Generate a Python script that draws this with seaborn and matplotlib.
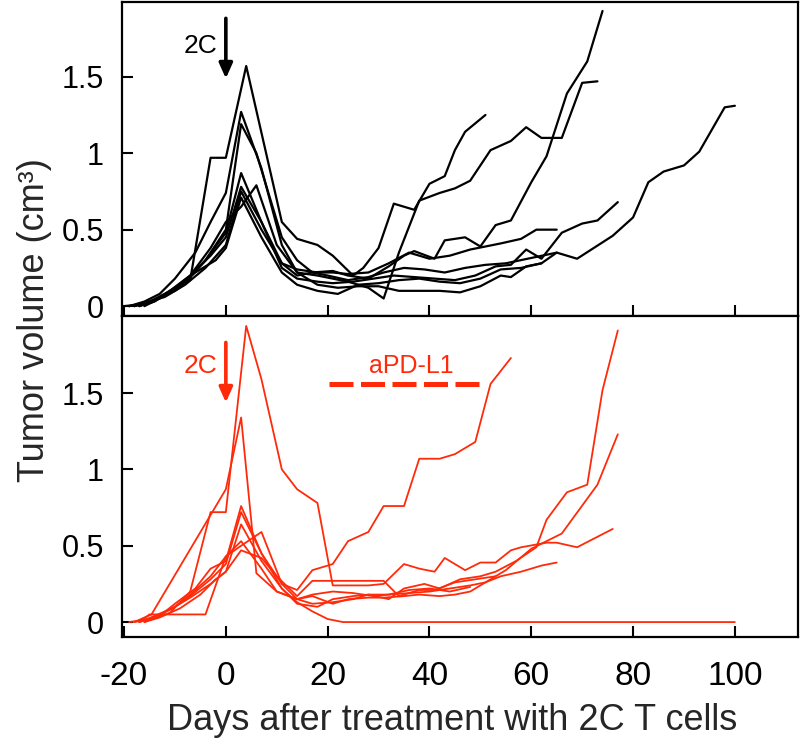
import matplotlib
matplotlib.use('Agg')
import matplotlib.pyplot as plt
import seaborn as sns
import pandas as pd

# --- top panel: 2C T cells only (black) ---
t1_days = [-20, -17, -14, -10, -7, -3, 0, 4, 11, 14, 18, 21, 25, 27, 30, 33, 37, 40, 43, 45, 47, 51]
t1_vol = [0, 0.01, 0.04, 0.10, 0.17, 0.97, 0.97, 1.57, 0.55, 0.44, 0.40, 0.33, 0.20, 0.25, 0.38, 0.67, 0.63, 0.80, 0.85, 1.02, 1.14, 1.25]
t2_days = [-19, -16, -13, -10, -6, -3, 0, 3, 7, 11, 14, 18, 21, 24, 28, 31, 34, 38, 42, 45, 48, 52, 56, 59, 62, 66, 70, 73]
t2_vol = [0, 0.03, 0.08, 0.18, 0.35, 0.55, 0.74, 1.27, 0.90, 0.40, 0.22, 0.20, 0.18, 0.16, 0.12, 0.05, 0.35, 0.69, 0.74, 0.77, 0.82, 1.02, 1.08, 1.17, 1.10, 1.10, 1.46, 1.47]
t3_days = [-18, -15, -12, -8, -4, 0, 3, 6, 11, 14, 17, 21, 24, 28, 32, 35, 37, 41, 43, 47, 50, 53, 56, 60, 63, 67, 71, 74]
t3_vol = [0, 0.03, 0.08, 0.15, 0.30, 0.50, 1.19, 1.00, 0.45, 0.30, 0.22, 0.23, 0.20, 0.18, 0.26, 0.33, 0.36, 0.31, 0.43, 0.45, 0.39, 0.53, 0.56, 0.81, 0.98, 1.39, 1.60, 1.93]
t4_days = [-18, -15, -12, -8, -4, 0, 3, 7, 11, 14, 18, 21, 24, 28, 32, 36, 40, 44, 48, 54, 58, 61, 65]
t4_vol = [0, 0.02, 0.07, 0.16, 0.30, 0.48, 0.87, 0.55, 0.28, 0.24, 0.22, 0.22, 0.21, 0.22, 0.28, 0.35, 0.31, 0.33, 0.37, 0.41, 0.44, 0.50, 0.50]
t5_days = [-17, -14, -11, -7, -3, 0, 3, 7, 11, 14, 18, 21, 25, 29, 33, 37, 41, 45, 49, 53, 56, 59, 62, 66, 70, 73, 77]
t5_vol = [0, 0.03, 0.10, 0.20, 0.33, 0.45, 0.78, 0.55, 0.25, 0.18, 0.16, 0.15, 0.16, 0.18, 0.20, 0.19, 0.18, 0.17, 0.20, 0.26, 0.27, 0.37, 0.31, 0.48, 0.54, 0.56, 0.68]
t6_days = [-16, -13, -10, -7, -3, 0, 3, 6, 10, 14, 18, 22, 26, 30, 34, 38, 42, 46, 50, 54, 56, 59, 62, 65, 69, 76, 80, 83, 86, 90, 93, 98, 100]
t6_vol = [0, 0.05, 0.12, 0.20, 0.38, 0.55, 0.65, 0.79, 0.40, 0.22, 0.14, 0.12, 0.13, 0.13, 0.10, 0.10, 0.10, 0.09, 0.13, 0.20, 0.19, 0.26, 0.28, 0.35, 0.31, 0.46, 0.58, 0.81, 0.88, 0.92, 1.01, 1.30, 1.31]
t7_days = [-17, -14, -10, -6, -2, 0, 3, 7, 11, 14, 18, 22, 26, 30, 34, 38, 42, 46, 50, 54, 58, 62]
t7_vol = [0, 0.04, 0.12, 0.22, 0.30, 0.38, 0.71, 0.45, 0.22, 0.14, 0.10, 0.08, 0.14, 0.15, 0.17, 0.18, 0.16, 0.15, 0.18, 0.24, 0.25, 0.28]
t8_days = [-19, -16, -12, -8, -4, 0, 3, 7, 11, 14, 17, 20, 24, 28, 31, 35, 39, 43, 47, 51, 55, 65]
t8_vol = [0, 0.02, 0.06, 0.14, 0.25, 0.40, 0.75, 0.50, 0.28, 0.20, 0.22, 0.20, 0.17, 0.19, 0.22, 0.25, 0.24, 0.22, 0.25, 0.27, 0.28, 0.35]

# --- bottom panel: 2C T cells + aPD-L1 (red) ---
r1_days = [-19, -15, -11, -7, -3, 0, 4, 7, 11, 14, 18, 21, 25, 28, 31, 35, 38, 41, 43, 47, 50, 53, 56, 58, 63, 65, 69, 76]
r1_vol = [0, 0.02, 0.06, 0.20, 0.72, 0.72, 1.94, 1.59, 1.00, 0.87, 0.78, 0.24, 0.24, 0.24, 0.25, 0.38, 0.35, 0.33, 0.42, 0.34, 0.39, 0.39, 0.47, 0.49, 0.52, 0.52, 0.49, 0.61]
r2_days = [-18, -14.6, 0, 3, 6, 10, 14, 17, 21, 24, 28, 31, 35, 38, 42, 45, 48, 51, 55, 60, 66, 73, 77]
r2_vol = [0, 0.05, 0.87, 1.34, 0.32, 0.20, 0.15, 0.17, 0.12, 0.15, 0.16, 0.16, 0.17, 0.18, 0.17, 0.18, 0.20, 0.26, 0.34, 0.48, 0.58, 0.90, 1.23]
r3_days = [-16, -13, -10, -6, -3, 0, 3, 7, 11, 14, 18, 21, 25, 28, 32, 35, 39, 42, 46, 50, 53, 57, 61, 63, 67, 71, 74, 77]
r3_vol = [0, 0.04, 0.12, 0.22, 0.35, 0.40, 0.76, 0.45, 0.22, 0.12, 0.10, 0.15, 0.17, 0.18, 0.15, 0.22, 0.25, 0.22, 0.28, 0.30, 0.33, 0.40, 0.49, 0.67, 0.85, 0.90, 1.52, 1.91]
r4_days = [-17, -14, -10, -7, -3, 0, 3, 7, 11, 14, 17, 21, 24, 28, 31, 35, 38, 42, 45, 49, 52, 56]
r4_vol = [0, 0.03, 0.10, 0.17, 0.28, 0.38, 0.72, 0.45, 0.25, 0.21, 0.34, 0.38, 0.53, 0.59, 0.76, 0.76, 1.07, 1.07, 1.10, 1.18, 1.56, 1.73]
r5_days = [-18, -15, -11, -7, -3, 0, 3, 7, 11, 14, 17, 20, 23, 100]
r5_vol = [0, 0.02, 0.08, 0.16, 0.25, 0.33, 0.64, 0.40, 0.22, 0.13, 0.07, 0.02, 0, 0]
r6_days = [-17, -14, -10, -7, -3, 0, 3, 7, 10, 14, 17, 21, 25, 28, 32, 36, 40, 44, 48, 51, 54, 58, 62, 65]
r6_vol = [0, 0.04, 0.10, 0.18, 0.30, 0.43, 0.53, 0.35, 0.20, 0.15, 0.12, 0.13, 0.15, 0.18, 0.18, 0.19, 0.20, 0.22, 0.24, 0.26, 0.30, 0.33, 0.37, 0.39]
r7_days = [-17, -15, -4, 0, 3, 7, 11, 14, 17, 21, 25, 29, 32, 36, 40, 44, 48]
r7_vol = [0, 0.05, 0.05, 0.43, 0.50, 0.59, 0.25, 0.15, 0.18, 0.20, 0.19, 0.17, 0.18, 0.21, 0.22, 0.20, 0.23]
r8_days = [-16, -13, -9, -5, -2, 0, 3, 7, 10, 14, 17, 21, 25, 28, 31, 34, 38, 41, 45, 49, 53]
r8_vol = [0, 0.03, 0.09, 0.18, 0.28, 0.33, 0.47, 0.42, 0.30, 0.17, 0.27, 0.27, 0.27, 0.27, 0.27, 0.17, 0.21, 0.21, 0.26, 0.28, 0.30]

x_ticks = [-20, 0, 20, 40, 60, 80, 100]
y_ticks = [0, 0.5, 1, 1.5]
y_ticklabels = ['0', '0.5', '1', '1.5']
apd_start, apd_end = 20.3, 50.9  # aPD-L1 treatment window (days)

RED = '#ff2a0a'


def make_frame(curves):
    parts = []
    for i, (d, v) in enumerate(curves):
        parts.append(pd.DataFrame({'day': d, 'vol': v, 'mouse': i}))
    return pd.concat(parts, ignore_index=True)


df_top = make_frame([(t1_days, t1_vol), (t2_days, t2_vol), (t3_days, t3_vol), (t4_days, t4_vol),
                     (t5_days, t5_vol), (t6_days, t6_vol), (t7_days, t7_vol), (t8_days, t8_vol)])
df_bot = make_frame([(r1_days, r1_vol), (r2_days, r2_vol), (r3_days, r3_vol), (r4_days, r4_vol),
                     (r5_days, r5_vol), (r6_days, r6_vol), (r7_days, r7_vol), (r8_days, r8_vol)])

sns.set_style('ticks')
plt.rcParams['font.family'] = ['Liberation Sans', 'DejaVu Sans']
plt.rcParams['axes.unicode_minus'] = False

fig = plt.figure(figsize=(8, 7.49), dpi=100)
ax1 = fig.add_axes([0.1525, 0.578, 0.845, 0.419])
ax2 = fig.add_axes([0.1525, 0.1495, 0.845, 0.4286])

sns.lineplot(data=df_top, x='day', y='vol', units='mouse', estimator=None, sort=False,
             color='black', lw=1.6, ax=ax1)
sns.lineplot(data=df_bot, x='day', y='vol', units='mouse', estimator=None, sort=False,
             color=RED, lw=1.3, ax=ax2)

ax1.set_ylim(-0.065, 1.987)
ax2.set_ylim(-0.098, 2.005)
for ax in (ax1, ax2):
    ax.set_xlim(-20.4, 112.4)
    ax.set_xticks(x_ticks)
    ax.set_yticks(y_ticks)
    ax.set_yticklabels(y_ticklabels)
    ax.set_xlabel('')
    ax.set_ylabel('')
    for s in ax.spines.values():
        s.set_linewidth(1.6)
        s.set_color('black')
    ax.tick_params(axis='both', direction='in', length=8, width=1.5, colors='black')
    ax.tick_params(axis='y', labelsize=22, pad=13)
    ax.tick_params(axis='x', labelsize=24, pad=17)
ax1.tick_params(axis='x', labelbottom=False)

# 2C arrows
ax1.annotate('', xy=(0, 1.47), xytext=(0, 1.90),
             arrowprops=dict(arrowstyle='-|>,head_length=0.9,head_width=0.4', lw=2.6, color='black'))
ax1.text(-1.6, 1.70, '2C', fontsize=19, ha='right', va='center', color='black')
ax2.annotate('', xy=(0, 1.42), xytext=(0, 1.85),
             arrowprops=dict(arrowstyle='-|>,head_length=0.9,head_width=0.4', lw=2.6, color=RED))
ax2.text(-1.6, 1.68, '2C', fontsize=19, ha='right', va='center', color=RED)

# aPD-L1 window
ax2.plot([apd_start, apd_end], [1.56, 1.56], color=RED, lw=3.6, ls=(0, (4.8, 1.5)), solid_capstyle='butt')
ax2.text(36.4, 1.68, 'aPD-L1', fontsize=18, ha='center', va='center', color=RED)

fig.text(0.565, 0.038, 'Days after treatment with 2C T cells', fontsize=26, ha='center', va='center')
fig.text(0.043, 0.573, 'Tumor volume (cm³)', fontsize=26, ha='center', va='center', rotation=90)

fig.savefig('out.png', dpi=100)
